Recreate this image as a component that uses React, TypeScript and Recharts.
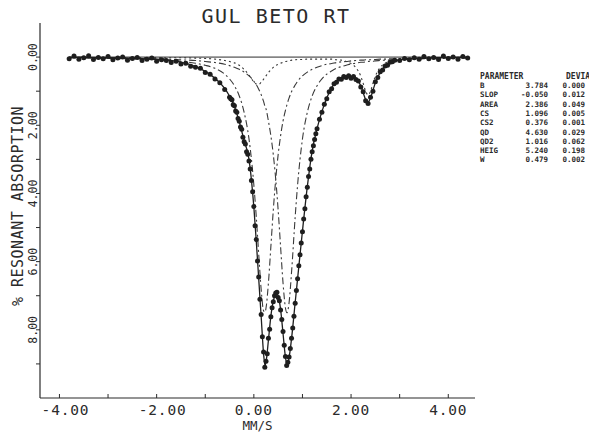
import { ComposedChart, Line, Scatter, XAxis, YAxis, ReferenceLine, Label } from 'recharts'

// velocity grid of the fitted curves (mm/s) and the curves (% absorption)
const vel = [
  -3.8, -3.4, -3.0, -2.6, -2.2, -1.8, -1.5, -1.2, -1.0, -0.8,
  -0.6, -0.5, -0.4, -0.3, -0.2, -0.1, -0.05, 0.0, 0.05, 0.1,
  0.15, 0.2, 0.23, 0.25, 0.3, 0.35, 0.4, 0.47, 0.5, 0.55,
  0.6, 0.65, 0.68, 0.72, 0.78, 0.85, 0.9, 1.0, 1.1, 1.2,
  1.3, 1.4, 1.5, 1.6, 1.7, 1.8, 1.9, 2.0, 2.1, 2.2,
  2.25, 2.3, 2.35, 2.4, 2.45, 2.5, 2.6, 2.7, 2.8, 3.0,
  3.2, 3.5, 3.8, 4.1, 4.4,
]
const fit = [
  0.0, 0.01, 0.02, 0.03, 0.05, 0.08, 0.15, 0.28, 0.42, 0.62,
  0.92, 1.15, 1.45, 1.9, 2.45, 3.0, 3.6, 4.4, 5.4, 6.5,
  7.6, 8.7, 9.05, 8.95, 8.3, 7.6, 7.15, 6.95, 7.0, 7.4,
  8.1, 8.8, 9.0, 8.85, 8.2, 7.2, 6.5, 5.1, 3.8, 2.75,
  2.1, 1.6, 1.2, 0.9, 0.72, 0.62, 0.58, 0.58, 0.62, 0.85,
  1.05, 1.25, 1.32, 1.2, 0.98, 0.75, 0.45, 0.28, 0.17, 0.08,
  0.05, 0.03, 0.02, 0.01, 0.0,
]
const subA = [
  0.02, 0.03, 0.04, 0.05, 0.06, 0.09, 0.12, 0.18, 0.24, 0.33,
  0.5, 0.64, 0.84, 1.14, 1.62, 2.4, 2.99, 3.75, 4.69, 5.78,
  6.81, 7.44, 7.48, 7.36, 6.62, 5.56, 4.49, 3.27, 2.86, 2.31,
  1.88, 1.56, 1.4, 1.22, 1.0, 0.82, 0.71, 0.55, 0.44, 0.36,
  0.3, 0.25, 0.21, 0.19, 0.16, 0.14, 0.13, 0.11, 0.1, 0.09,
  0.09, 0.08, 0.08, 0.08, 0.08, 0.07, 0.06, 0.06, 0.05, 0.05,
  0.04, 0.03, 0.03, 0.02, 0.02,
]
const subB = [
  0.02, 0.02, 0.03, 0.03, 0.04, 0.06, 0.08, 0.1, 0.13, 0.16,
  0.21, 0.25, 0.3, 0.36, 0.44, 0.55, 0.62, 0.71, 0.81, 0.94,
  1.1, 1.3, 1.45, 1.52, 1.88, 2.31, 2.86, 3.92, 4.49, 5.56,
  6.62, 7.36, 7.5, 7.26, 6.22, 4.69, 3.75, 2.4, 1.62, 1.14,
  0.84, 0.64, 0.5, 0.41, 0.33, 0.28, 0.24, 0.2, 0.18, 0.15,
  0.15, 0.14, 0.13, 0.12, 0.12, 0.11, 0.1, 0.09, 0.08, 0.07,
  0.06, 0.05, 0.04, 0.03, 0.03,
]
const subC = [
  0.01, 0.01, 0.01, 0.01, 0.01, 0.02, 0.02, 0.03, 0.04, 0.06,
  0.1, 0.13, 0.17, 0.24, 0.36, 0.53, 0.63, 0.73, 0.79, 0.8,
  0.74, 0.65, 0.59, 0.55, 0.45, 0.37, 0.3, 0.23, 0.21, 0.18,
  0.15, 0.13, 0.12, 0.11, 0.09, 0.08, 0.07, 0.07, 0.06, 0.06,
  0.06, 0.06, 0.06, 0.06, 0.08, 0.09, 0.13, 0.19, 0.31, 0.56,
  0.77, 1.0, 1.11, 1.0, 0.77, 0.56, 0.3, 0.18, 0.12, 0.06,
  0.04, 0.02, 0.02, 0.01, 0.01,
]

// measured channels
const obsVel = [
  // left baseline
  -3.8, -3.7, -3.6, -3.5, -3.4, -3.3, -3.2, -3.1, -3.0, -2.9,
  -2.8, -2.7, -2.6, -2.5, -2.4, -2.3, -2.2, -2.1, -2.0, -1.9,
  -1.8, -1.7, -1.6, -1.5, -1.4, -1.3, -1.2, -1.1, -1.0, -0.9,
  -0.8, -0.7, -0.6,
  // main doublet
  -0.5, -0.475, -0.45, -0.425, -0.4, -0.375, -0.35, -0.325, -0.3, -0.275,
  -0.25, -0.225, -0.2, -0.175, -0.15, -0.125, -0.1, -0.075, -0.05, -0.025,
  0, 0.025, 0.05, 0.075, 0.1, 0.125, 0.15, 0.175, 0.2, 0.225,
  0.25, 0.275, 0.3, 0.325, 0.35, 0.375, 0.4, 0.425, 0.45, 0.475,
  0.5, 0.525, 0.55, 0.575, 0.6, 0.625, 0.65, 0.675, 0.7, 0.725,
  0.75, 0.775, 0.8, 0.825, 0.85, 0.875, 0.9, 0.925, 0.95, 0.975,
  1.0, 1.025, 1.05, 1.075, 1.1, 1.125, 1.15, 1.175, 1.2, 1.225,
  1.25, 1.275, 1.3,
  // small line
  1.35, 1.4, 1.45, 1.5, 1.55, 1.6, 1.65, 1.7, 1.75, 1.8,
  1.85, 1.9, 1.95, 2.0, 2.05, 2.1, 2.15, 2.2, 2.25, 2.3,
  2.35, 2.4, 2.45, 2.5, 2.55, 2.6, 2.65, 2.7, 2.75, 2.8,
  2.85, 2.9,
  // right baseline
  3.0, 3.1, 3.2, 3.3, 3.4, 3.5, 3.6, 3.7, 3.8, 3.9,
  4.0, 4.1, 4.2, 4.3, 4.4,
]
const obsAbs = [
  0.05, -0.03, 0.06, 0.02, -0.04, 0.07, 0.01, 0.05, -0.02, 0.08,
  0.03, 0.0, 0.09, 0.04, 0.01, 0.1, 0.06, 0.03, 0.12, 0.08,
  0.1, 0.16, 0.12, 0.2, 0.18, 0.27, 0.3, 0.33, 0.45, 0.5,
  0.64, 0.75, 0.95,

  1.18, 1.22, 1.25, 1.4, 1.43, 1.58, 1.62, 1.8, 1.88, 2.05,
  2.12, 2.35, 2.48, 2.55, 2.78, 2.85, 3.05, 3.28, 3.62, 3.95,
  4.38, 4.95, 5.35, 5.98, 6.45, 7.1, 7.55, 8.2, 8.65, 9.1,
  8.92, 8.7, 8.25, 7.98, 7.62, 7.35, 7.18, 7.0, 6.92, 6.9,
  7.05, 7.15, 7.42, 7.7, 8.05, 8.45, 8.78, 9.05, 8.95, 8.8,
  8.55, 8.25, 7.95, 7.6, 7.22, 6.85, 6.5, 6.12, 5.8, 5.45,
  5.12, 4.75, 4.45, 4.1, 3.82, 3.5, 3.28, 3.0, 2.78, 2.6,
  2.42, 2.25, 2.1,

  1.82, 1.62, 1.38, 1.22, 1.02, 0.93, 0.78, 0.74, 0.64, 0.65,
  0.57, 0.6, 0.55, 0.62, 0.57, 0.66, 0.7, 0.88, 1.02, 1.28,
  1.36, 1.18, 1.0, 0.72, 0.6, 0.43, 0.38, 0.26, 0.24, 0.15,
  0.14, 0.09,

  0.1, 0.04, 0.08, 0.02, 0.06, -0.02, 0.05, 0.01, 0.07, -0.03,
  0.04, 0.0, 0.06, -0.02, 0.03,
]

const xTicks = [-4, -3, -2, -1, 0, 1, 2, 3, 4]
const yTicks = [0, 1, 2, 3, 4, 5, 6, 7, 8, 9]
const title = 'GUL BETO RT'
const xLabel = 'MM/S'
const yLabel = '% RESONANT ABSORPTION'

const paramNames = ['B', 'SLOP', 'AREA', 'CS', 'CS2', 'QD', 'QD2', 'HEIG', 'W']
const paramValues = ['3.784', '-0.050', '2.386', '1.096', '0.376', '4.630', '1.016', '5.240', '0.479']
const paramDevs = ['0.000', '0.012', '0.049', '0.005', '0.001', '0.029', '0.062', '0.198', '0.002']

const rows = vel.map((v, i) => ({ v, fit: fit[i], a: subA[i], b: subB[i], c: subC[i] }))
const points = obsVel.map((v, i) => ({ v, obs: obsAbs[i] }))

const INK = '#2b2b2b'
const MONO = 'DejaVu Sans Mono, monospace'

function XTick({ x, y, payload }: any) {
  const v = payload.value as number
  return (
    <g>
      <line x1={x} y1={y} x2={x} y2={y - 4} stroke={INK} />
      {v % 2 === 0 && (
        <text x={x + (v < 0 ? 6 : 0)} y={y + 17} textAnchor="middle" fontFamily={MONO} fontSize={14.5} letterSpacing={0.8} fill={INK}>
          {v.toFixed(2)}
        </text>
      )}
    </g>
  )
}

function YTick({ x, y, payload }: any) {
  const v = payload.value as number
  return (
    <g>
      <line x1={x} y1={y} x2={x - 4} y2={y} stroke={INK} />
      {v % 2 === 0 && (
        <text x={x - 3} y={y} transform={`rotate(-90 ${x - 3} ${y})`} textAnchor="middle" fontFamily={MONO} fontSize={11.5} fill={INK}>
          {v.toFixed(2)}
        </text>
      )}
    </g>
  )
}

function XName({ viewBox }: any) {
  const cx = viewBox.x + viewBox.width / 2
  return (
    <text x={cx} y={viewBox.y + 32} textAnchor="middle" fontFamily={MONO} fontSize={12.5} fill={INK}>
      {xLabel}
    </text>
  )
}

function YName() {
  return (
    <text x={23} y={206} transform="rotate(-90 23 206)" textAnchor="middle" fontFamily={MONO} fontSize={15} letterSpacing={0.5} fill={INK}>
      {yLabel}
    </text>
  )
}

const dot = (p: any) => <circle cx={p.cx} cy={p.cy} r={2.5} fill="#1e1e1e" />

export default function App() {
  return (
    <div style={{ position: 'absolute', left: 0, top: 0, width: 589, height: 434, background: '#fff' }}>
      <ComposedChart width={589} height={434} data={rows} margin={{ top: 23, right: 114, bottom: 0, left: 0 }}>
        <XAxis
          type="number"
          dataKey="v"
          domain={[-4.4, 4.55]}
          ticks={xTicks}
          allowDataOverflow
          height={36}
          tickSize={0}
          tickMargin={0}
          tickLine={false}
          tick={<XTick />}
          stroke={INK}
          strokeWidth={1.2}
        >
          <Label content={<XName />} />
        </XAxis>
        <YAxis
          type="number"
          domain={[-1, 10]}
          reversed
          ticks={yTicks}
          allowDataOverflow
          width={40}
          tickSize={0}
          tickMargin={0}
          tickLine={false}
          tick={<YTick />}
          stroke={INK}
          strokeWidth={1.2}
        >
          <Label content={<YName />} />
        </YAxis>
        <ReferenceLine segment={[{ x: -3.8, y: 0 }, { x: 4.4, y: 0 }]} stroke={INK} strokeWidth={1} />
        <Line type="monotone" dataKey="a" stroke="#3a3a3a" strokeWidth={1.1} strokeDasharray="7 3 2 3" dot={false} isAnimationActive={false} />
        <Line type="monotone" dataKey="b" stroke="#3a3a3a" strokeWidth={1.1} strokeDasharray="7 3 2 3" dot={false} isAnimationActive={false} />
        <Line type="monotone" dataKey="c" stroke="#3a3a3a" strokeWidth={1.1} strokeDasharray="2 3" dot={false} isAnimationActive={false} />
        <Scatter data={points} dataKey="obs" shape={dot} isAnimationActive={false} />
        <Line type="monotone" dataKey="fit" stroke="#1e1e1e" strokeWidth={1.3} dot={false} isAnimationActive={false} />
      </ComposedChart>
      <svg width={589} height={434} style={{ position: 'absolute', left: 0, top: 0, pointerEvents: 'none' }}>
        <text x={276} y={23} textAnchor="middle" fontFamily={MONO} fontSize={20} letterSpacing={1.5} fill={INK}>
          {title}
        </text>
        <g fontFamily={MONO} fontWeight="bold" fill={INK}>
          <text x={480} y={79} fontSize={8}>PARAMETER</text>
          <text x={566} y={79} fontSize={8}>DEVIA</text>
          {paramNames.map((n, i) => (
            <g key={n} fontSize={7.5}>
              <text x={480} y={88 + i * 9.3}>{n}</text>
              <text x={548} y={88 + i * 9.3} textAnchor="end">{paramValues[i]}</text>
              <text x={585} y={88 + i * 9.3} textAnchor="end">{paramDevs[i]}</text>
            </g>
          ))}
        </g>
      </svg>
    </div>
  )
}
